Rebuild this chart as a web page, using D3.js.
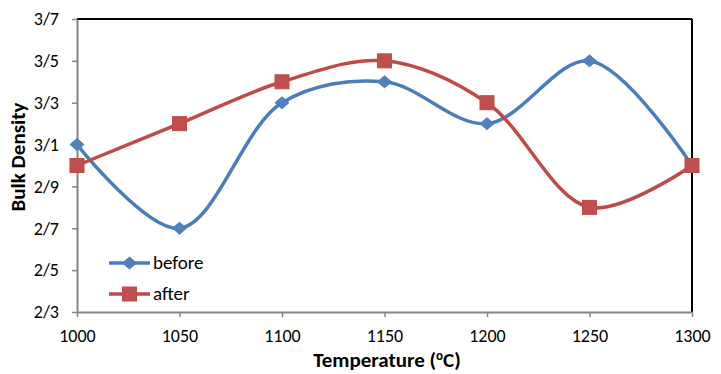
<!DOCTYPE html>
<html>
<head>
<meta charset="utf-8">
<script src="https://cdn.jsdelivr.net/npm/d3@7"></script>
<style>
  body { margin: 0; background: #fff; }
  text { font-family: Carlito, "Liberation Sans Narrow", "Liberation Sans", sans-serif; }
</style>
</head>
<body>
<div id="chart"></div>
<script>
// chart data
var temps = [1000, 1050, 1100, 1150, 1200, 1250, 1300];
var before = [3.1, 2.7, 3.3, 3.4, 3.2, 3.5, 3.0];
var after = [3.0, 3.2, 3.4, 3.5, 3.3, 2.8, 3.0];
var yTickValues = [2.3, 2.5, 2.7, 2.9, 3.1, 3.3, 3.5, 3.7];
var yTickLabels = ["2/3", "2/5", "2/7", "2/9", "3/1", "3/3", "3/5", "3/7"];

var svgWidth = 721;
var svgHeight = 374;
var margin = { top: 19, right: 29, bottom: 62, left: 77 };
var width = svgWidth - margin.left - margin.right;
var height = svgHeight - margin.top - margin.bottom;

var svg = d3.select("#chart")
  .append("svg")
  .attr("width", svgWidth)
  .attr("height", svgHeight);

var chartGroup = svg.append("g")
  .attr("transform", `translate(${margin.left}, ${margin.top})`);

var xScale = d3.scaleLinear().domain([1000, 1300]).range([0, width]);
var yScale = d3.scaleLinear().domain([2.3, 3.7]).range([height, 0]);

// top and right border lines
chartGroup.append("line")
  .attr("x1", 0).attr("x2", width).attr("y1", 0).attr("y2", 0)
  .attr("stroke", "#000").attr("stroke-width", 2);
chartGroup.append("line")
  .attr("x1", width).attr("x2", width).attr("y1", 0).attr("y2", height)
  .attr("stroke", "#000").attr("stroke-width", 2);

// axes
var bottomAxis = d3.axisBottom(xScale).tickValues(temps).tickFormat(d3.format("d")).tickSize(5).tickSizeOuter(0);
var leftAxis = d3.axisLeft(yScale).tickValues(yTickValues)
  .tickFormat((d, i) => yTickLabels[i]).tickSize(5).tickSizeOuter(0);

var xAxisG = chartGroup.append("g")
  .attr("transform", `translate(0, ${height})`)
  .call(bottomAxis);
var yAxisG = chartGroup.append("g").call(leftAxis);

[xAxisG, yAxisG].forEach(function(g) {
  g.select(".domain").attr("stroke", "#868686").attr("stroke-width", 2);
  g.selectAll(".tick line").attr("stroke", "#868686").attr("stroke-width", 1.5);
  g.selectAll(".tick text")
    .attr("fill", "#000")
    .style("font-size", "18px");
});
xAxisG.selectAll(".tick text").attr("y", 30).attr("dy", 0);
yAxisG.selectAll(".tick text").attr("x", -18);

// smoothed lines
var series = [
  { name: "before", values: before, line: "#4A7EBB", fill: "#4F81BD", shape: "diamond" },
  { name: "after", values: after, line: "#BE4B48", fill: "#C0504D", shape: "square" }
];

var lineGen = d3.line()
  .x((d, i) => xScale(temps[i]))
  .y(d => yScale(d))
  .curve(d3.curveCatmullRom.alpha(0.5));

function marker(g, shape, x, y, s) {
  if (shape === "diamond") {
    g.append("path")
      .attr("d", `M${x},${y - 6}L${x + 7},${y}L${x},${y + 6}L${x - 7},${y}Z`)
      .attr("fill", s.fill).attr("stroke", s.line).attr("stroke-width", 1);
  } else {
    g.append("rect")
      .attr("x", x - 7).attr("y", y - 7)
      .attr("width", 14).attr("height", 14)
      .attr("fill", s.fill).attr("stroke", s.line).attr("stroke-width", 1);
  }
}

series.forEach(function(s) {
  chartGroup.append("path")
    .datum(s.values)
    .attr("d", lineGen)
    .attr("fill", "none")
    .attr("stroke", s.line)
    .attr("stroke-width", 3.5);
});

series.forEach(function(s) {
  var mg = chartGroup.append("g");
  s.values.forEach(function(v, i) {
    marker(mg, s.shape, xScale(temps[i]), yScale(v), s);
  });
});

// legend
var legend = svg.append("g");
series.forEach(function(s, i) {
  var ly = 263 + i * 31;
  legend.append("line")
    .attr("x1", 109).attr("x2", 150).attr("y1", ly).attr("y2", ly)
    .attr("stroke", s.line).attr("stroke-width", 3.5);
  marker(legend, s.shape, 129.5, ly, s);
  legend.append("text")
    .attr("x", 153).attr("y", ly + 6)
    .style("font-size", "19px")
    .text(s.name);
});

// axis titles
var xt = svg.append("text")
  .attr("x", 387).attr("y", 367)
  .attr("text-anchor", "middle")
  .style("font-size", "21px")
  .style("font-weight", "bold");
xt.append("tspan").text("Temperature (");
xt.append("tspan").attr("dy", -7).style("font-size", "13px").text("o");
xt.append("tspan").attr("dy", 7).text("C)");

svg.append("text")
  .attr("transform", "translate(25, 157) rotate(-90)")
  .attr("text-anchor", "middle")
  .style("font-size", "21px")
  .style("font-weight", "bold")
  .text("Bulk Density");
</script>
</body>
</html>
